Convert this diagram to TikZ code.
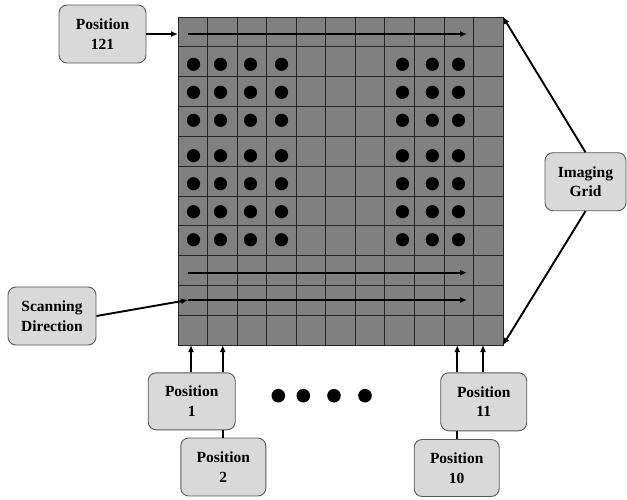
\documentclass[tikz,border=0pt]{standalone}
\usepackage{fontspec}
\setmainfont{Liberation Serif}
\usetikzlibrary{arrows.meta}
\definecolor{boxfill}{HTML}{D9D9D9}
\definecolor{boxline}{HTML}{595959}
\definecolor{gridfill}{HTML}{808080}
\definecolor{gridline}{HTML}{262626}
\tikzset{
  lbl/.style={draw=boxline, line width=0.9pt, fill=boxfill, rounded corners=8pt,
    align=center, font=\fontsize{15.5}{19.5}\selectfont\bfseries, inner sep=0pt},
  arr/.style={line width=1.9pt, -{Latex[length=7pt,width=6pt]}},
  conn/.style={line width=1.9pt},
  dotc/.style={fill=black}
}
\begin{document}
\begin{tikzpicture}[x=1pt,y=-1pt]
\useasboundingbox (0,0) rectangle (627,499);
% grid
\fill[gridfill] (178,17) rectangle (503,345);
\foreach \i in {1,...,10} {
  \draw[gridline, line width=0.7pt] ({178+\i*325/11},17) -- ({178+\i*325/11},345);
  \draw[gridline, line width=0.7pt] (178,{17+\i*328/11}) -- (503,{17+\i*328/11});
}
\draw[gridline, line width=0.8pt] (178,17) rectangle (503,345);
\coordinate (gNE) at (503,17);
\coordinate (gSE) at (503,345);
% dots in grid
\foreach \yy in {64.3,92.3,120.3,155.7,183.7,211.7,239.7} {
  \foreach \xx in {193.5,220.5,250.5,281.5,402.5,432.3,458.5} {
    \fill[dotc] (\xx,\yy) circle (6.6);
  }
}
% scanning arrows
\coordinate (s1) at (188,34);
\coordinate (e1) at (467,34);
\coordinate (s2) at (188,272.7);
\coordinate (e2) at (467,272.7);
\coordinate (s3) at (188,300);
\coordinate (e3) at (467,300);
\draw[arr] (s1) -- (e1);
\draw[arr] (s2) -- (e2);
\draw[arr] (s3) -- (e3);
% label boxes
\node[lbl, minimum width=87pt, minimum height=58pt] (p121) at (102.5,34) {Position\\121};
\node[lbl, minimum width=81pt, minimum height=58pt] (ig) at (585.5,181.7) {Imaging\\Grid};
\node[lbl, minimum width=88pt, minimum height=58pt] (sd) at (52,316) {Scanning\\Direction};
\node[lbl, minimum width=87pt, minimum height=57pt] (p1) at (191.7,401.3) {Position\\1};
\node[lbl, minimum width=85pt, minimum height=58pt] (p2) at (223.3,467) {Position\\2};
\node[lbl, minimum width=86pt, minimum height=58pt] (p11) at (483.7,401.8) {Position\\11};
\node[lbl, minimum width=85pt, minimum height=57pt] (p10) at (456.7,468) {Position\\10};
% grid entry points
\coordinate (l121) at (178,34);
\coordinate (b1) at (191,345);
\coordinate (b2) at (222.7,345);
\coordinate (b10) at (457.3,345);
\coordinate (b11) at (483,345);
% connectors
\draw[arr] (p121.east |- l121) -- (l121);
\draw[arr] (ig.north) -- (gNE);
\draw[arr] (ig.south) -- (gSE);
\draw[arr] (sd.east) -- (s3);
\draw[arr] (p1.north -| b1) -- (b1);
\draw[arr] (p1.north -| b2) -- (b2);
\draw[arr] (p11.north -| b10) -- (b10);
\draw[arr] (p11.north -| b11) -- (b11);
\draw[conn] (p1.south -| p2.north) -- (p2.north);
\draw[conn] (p11.south -| p10.north) -- (p10.north);
% ellipsis dots
\foreach \xx in {278.3,303.3,334,365} {
  \fill[dotc] (\xx,395.7) circle (6.8);
}
\end{tikzpicture}
\end{document}
